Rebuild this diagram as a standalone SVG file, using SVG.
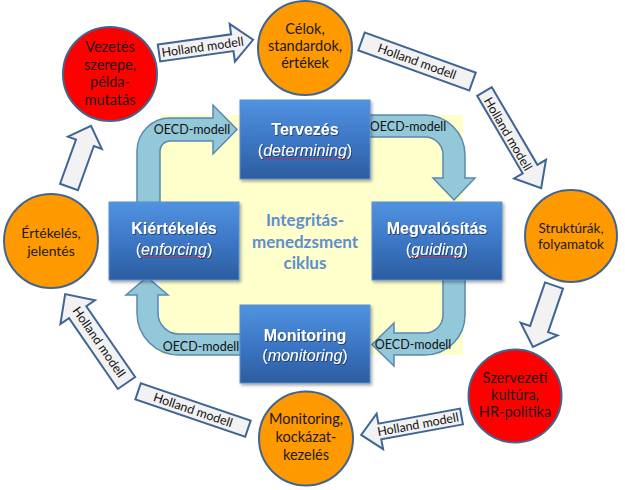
<svg xmlns="http://www.w3.org/2000/svg" width="625" height="490" viewBox="0 0 625 490">
<defs>
<linearGradient id="boxg" x1="0" y1="0" x2="0" y2="1">
<stop offset="0" stop-color="#5193E0"/>
<stop offset="0.5" stop-color="#3C77C6"/>
<stop offset="1" stop-color="#2C5D9F"/>
</linearGradient>
<filter id="ts" x="-10%" y="-30%" width="120%" height="160%">
<feDropShadow dx="0.8" dy="1" stdDeviation="0.6" flood-color="#1a2f55" flood-opacity="0.8"/>
</filter>
<filter id="bs" x="-10%" y="-10%" width="125%" height="130%">
<feDropShadow dx="1.5" dy="2" stdDeviation="1.5" flood-color="#000" flood-opacity="0.35"/>
</filter>
<style>
.co{fill:#FF9900;stroke:#41658F;stroke-width:2}
.cr{fill:#FF0000;stroke:#41658F;stroke-width:2}
.ct{font-family:Lato,"Liberation Sans",sans-serif;font-size:14.5px;fill:#1a1a1a;text-anchor:middle}
.ha{fill:#F2F2F2;stroke:#3E6595;stroke-width:2}
.ht{font-family:Lato,"Liberation Sans",sans-serif;font-size:12.5px;fill:#111;text-anchor:middle}
.oa{fill:#93C8D9;stroke:#5A88B0;stroke-width:1.5}
.ot{font-family:Lato,"Liberation Sans",sans-serif;font-size:12.5px;fill:#111;text-anchor:middle}
.box{fill:url(#boxg);stroke:#5B8FD0;stroke-width:1;filter:url(#bs)}
.bt{font-family:"Liberation Sans",Arial,sans-serif;font-weight:bold;font-size:16px;fill:#fff;text-anchor:middle;filter:url(#ts)}
.bs{font-family:"Liberation Sans",Arial,sans-serif;font-size:16px;fill:#fff;text-anchor:middle;filter:url(#ts)}
.sp{stroke:#E02020;stroke-width:1;stroke-dasharray:1.5 1;fill:none}
.mid{font-family:Lato,"Liberation Sans",sans-serif;font-weight:bold;font-size:17px;fill:#5E8ECC;text-anchor:middle}
</style>
</defs>
<rect x="0" y="0" width="625" height="490" fill="#fff"/>
<rect x="160" y="115" width="303" height="240" fill="#FFFFCC"/>

<g id="connectors">
<g id="oecd">
<path class="oa" d="M137,205 L137,151 A33,33 0 0 1 170,118 L213,118 L213,105 L237,129.5 L213,154 L213,141 L170,141 A10,10 0 0 0 160,151 L160,205 Z"/>
<path class="oa" d="M367,115 L425,115 A40,40 0 0 1 465,155 L465,178 L475,178 L454,200 L433,178 L443,178 L443,155 A18,18 0 0 0 425,137 L367,137 Z"/>
<path class="oa" d="M465,277 L465,315 A40,40 0 0 1 425,355 L394,355 L394,366 L372,344.5 L394,323 L394,333 L425,333 A18,18 0 0 0 443,315 L443,277 Z"/>
<path class="oa" d="M243,355 L179,355 A42,42 0 0 1 137,313 L137,295 L126,295 L147,277 L168,295 L158,295 L158,313 A21,21 0 0 0 179,334 L243,334 Z"/>
<text class="ot" x="192" y="133.5">OECD-modell</text>
<text class="ot" x="408" y="130.5">OECD-modell</text>
<text class="ot" x="413" y="348.5">OECD-modell</text>
<text class="ot" x="201" y="350.5">OECD-modell</text>
</g>
<g id="holland">
<polygon class="ha" transform="translate(159,53) rotate(-8)" points="0,-8.5 74,-8.5 74,-19 95,0 74,19 74,8.5 0,8.5"/>
<text class="ht" transform="translate(202.6,47) rotate(-8)" y="4.3">Holland modell</text>
<rect class="ha" transform="translate(417,61.5) rotate(19.8)" x="-59" y="-9.5" width="118" height="19"/>
<text class="ht" transform="translate(417,61.5) rotate(19.8)" y="4.3">Holland modell</text>
<polygon class="ha" transform="translate(484.5,91.5) rotate(59.6)" points="0,-8.5 90,-8.5 90,-18.5 112,0 90,18.5 90,8.5 0,8.5"/>
<text class="ht" transform="translate(508,134) rotate(59.6)" y="4.3">Holland modell</text>
<polygon class="ha" transform="translate(554,285.5) rotate(108.9)" points="0,-9.5 46,-9.5 46,-19.5 65,0 46,19.5 46,9.5 0,9.5"/>
<polygon class="ha" transform="translate(461.5,416.5) rotate(169.6)" points="0,-8 83,-8 83,-18 102,0 83,18 83,8 0,8"/>
<text class="ht" transform="translate(418,424.5) rotate(-10.4)" y="4.3">Holland modell</text>
<rect class="ha" transform="translate(193,410) rotate(18.7)" x="-58" y="-8.5" width="116" height="17"/>
<text class="ht" transform="translate(193,410) rotate(18.7)" y="4.3">Holland modell</text>
<polygon class="ha" transform="translate(126.5,383) rotate(-124.6)" points="0,-10.5 86,-10.5 86,-21 108,0 86,21 86,10.5 0,10.5"/>
<text class="ht" transform="translate(99,342) rotate(55.4)" y="4.3">Holland modell</text>
<polygon class="ha" transform="translate(69,187) rotate(-70.2)" points="0,-9.5 47,-9.5 47,-18 65,0 47,18 47,9.5 0,9.5"/>
</g>
</g>

<g id="tervezes">
<rect class="box" x="240" y="100" width="130" height="79"/>
<text class="bt" x="305" y="135">Tervezés</text>
<text class="bs" x="305" y="156">(<tspan font-style="italic">determining</tspan>)</text>
<path class="sp" d="M263,158.5 L347,158.5"/>
</g>
<g id="kiertekeles">
<rect class="box" x="109" y="202" width="130" height="78"/>
<text class="bt" x="174" y="234">Kiértékelés</text>
<text class="bs" x="174" y="255">(<tspan font-style="italic">enforcing</tspan>)</text>
<path class="sp" d="M141,257.5 L206,257.5"/>
</g>
<g id="megvalositas">
<rect class="box" x="372" y="202" width="130" height="78"/>
<text class="bt" x="437" y="234">Megvalósítás</text>
<text class="bs" x="437" y="255">(<tspan font-style="italic">guiding</tspan>)</text>
<path class="sp" d="M411,257.5 L463,257.5"/>
</g>
<g id="monitoring">
<rect class="box" x="240" y="305" width="130" height="78"/>
<text class="bt" x="305" y="341">Monitoring</text>
<text class="bs" x="305" y="361">(<tspan font-style="italic">monitoring</tspan>)</text>
</g>
<g id="ciklus">
<text class="mid" x="305" y="226">Integritás-</text>
<text class="mid" x="305" y="248">menedzsment</text>
<text class="mid" x="305" y="269">ciklus</text>
</g>

<g id="vezetes">
<circle class="cr" cx="110" cy="74" r="47"/>
<text class="ct" x="110" y="52">Vezetés</text>
<text class="ct" x="110" y="69.5">szerepe,</text>
<text class="ct" x="110" y="87">példa-</text>
<text class="ct" x="110" y="105">mutatás</text>
</g>
<g id="celok">
<circle class="co" cx="305" cy="48" r="47"/>
<text class="ct" x="305" y="34">Célok,</text>
<text class="ct" x="305" y="51">standardok,</text>
<text class="ct" x="305" y="68">értékek</text>
</g>
<g id="strukturak">
<circle class="co" cx="571" cy="236" r="46"/>
<text class="ct" x="571" y="233" style="font-size:13.5px">Struktúrák,</text>
<text class="ct" x="571" y="249" style="font-size:13.5px">folyamatok</text>
</g>
<g id="szervezeti">
<circle class="cr" cx="515" cy="396" r="46.5"/>
<text class="ct" x="515" y="383">Szervezeti</text>
<text class="ct" x="515" y="400">kultúra,</text>
<text class="ct" x="515" y="417">HR-politika</text>
</g>
<g id="monitoring-kockazat">
<circle class="co" cx="306" cy="438.5" r="47"/>
<text class="ct" x="306" y="424">Monitoring,</text>
<text class="ct" x="306" y="442">kockázat-</text>
<text class="ct" x="306" y="460">kezelés</text>
</g>
<g id="ertekeles">
<circle class="co" cx="51" cy="241" r="47"/>
<text class="ct" x="51" y="238" style="font-size:14px">Értékelés,</text>
<text class="ct" x="51" y="256" style="font-size:14px">jelentés</text>
</g>
</svg>
